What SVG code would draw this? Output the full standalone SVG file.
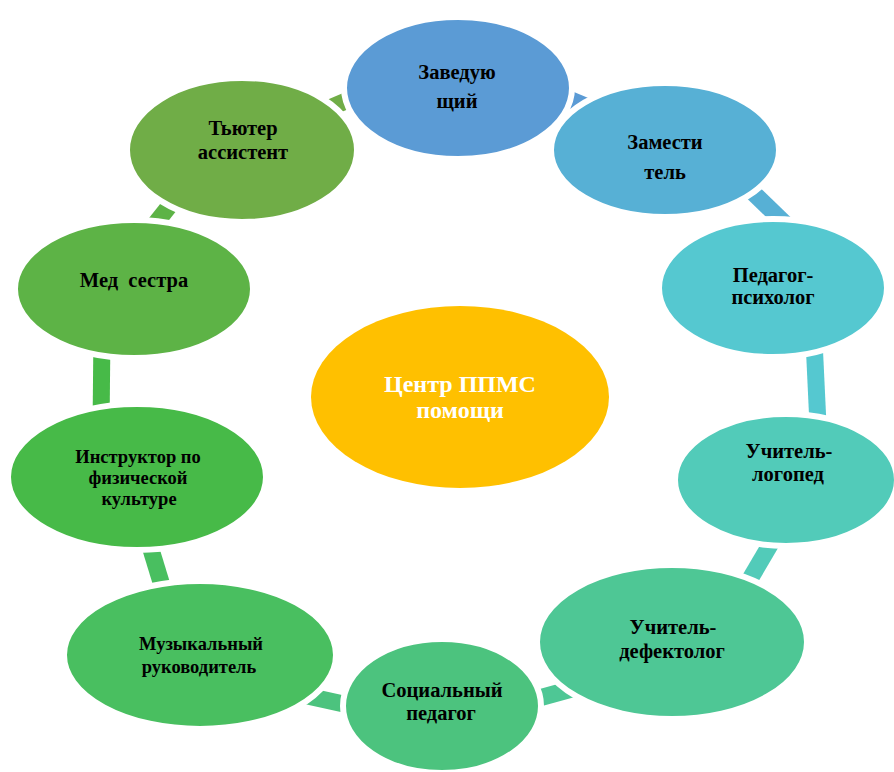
<svg xmlns="http://www.w3.org/2000/svg" width="894" height="772" viewBox="0 0 894 772">
<style>
.conn{fill:none;stroke-width:17;stroke-linecap:butt}
.node{stroke:#fff;stroke-width:6}
.t{font-family:"Liberation Serif","Times New Roman",serif;font-weight:bold;font-size:20.5px;fill:#000;text-anchor:middle}
.s{font-size:18.5px}
.c{font-size:24px;fill:#fff}
</style>
<rect width="894" height="772" fill="#fff"/>
<g id="connectors">
<line class="conn" x1="545" y1="89" x2="600" y2="112" stroke="#5B9BD5"/>
<line class="conn" x1="740" y1="180" x2="800" y2="238" stroke="#57B0D5"/>
<line class="conn" x1="814" y1="340" x2="818" y2="425" stroke="#55C8D0"/>
<line class="conn" x1="780" y1="528" x2="740" y2="596" stroke="#52CBB9"/>
<line class="conn" x1="590" y1="684" x2="510" y2="706" stroke="#4EC795"/>
<line class="conn" x1="380" y1="712" x2="280" y2="690" stroke="#4CC37E"/>
<line class="conn" x1="171" y1="615" x2="142" y2="520" stroke="#49BF60"/>
<line class="conn" x1="101" y1="430" x2="102" y2="330" stroke="#47BA48"/>
<line class="conn" x1="140" y1="243" x2="190" y2="180" stroke="#5DB346"/>
<line class="conn" x1="320" y1="112" x2="360" y2="95" stroke="#70AD47"/>
</g>
<g id="center"><ellipse cx="460" cy="397" rx="149" ry="91" fill="#FFC000"/>
<text class="t c" x="460" y="392">Центр ППМС</text><text class="t c" x="460" y="418">помощи</text></g>
<g id="n1"><ellipse class="node" cx="458" cy="88" rx="114" ry="71" fill="#5B9BD5"/>
<text class="t" x="457" y="79">Заведую</text><text class="t" x="457" y="108">щий</text></g>
<g id="n2"><ellipse class="node" cx="665" cy="150" rx="114" ry="67" fill="#57B0D5"/>
<text class="t" x="665" y="149">Замести</text><text class="t" x="665" y="179">тель</text></g>
<g id="n3"><ellipse class="node" cx="773" cy="288" rx="114" ry="69" fill="#55C8D0"/>
<text class="t" x="773" y="282">Педагог-</text><text class="t" x="773" y="304">психолог</text></g>
<g id="n4"><ellipse class="node" cx="786" cy="480" rx="111" ry="66" fill="#52CBB9"/>
<text class="t" x="789" y="458">Учитель-</text><text class="t" x="788" y="481">логопед</text></g>
<g id="n5"><ellipse class="node" cx="672" cy="642" rx="135" ry="77" fill="#4EC795"/>
<text class="t" x="673" y="634">Учитель-</text><text class="t" x="672" y="658">дефектолог</text></g>
<g id="n6"><ellipse class="node" cx="442" cy="706" rx="99" ry="67" fill="#4CC37E"/>
<text class="t" x="442" y="697">Социальный</text><text class="t" x="441" y="720">педагог</text></g>
<g id="n7"><ellipse class="node" cx="200" cy="655" rx="136" ry="74" fill="#49BF60"/>
<text class="t s" x="201" y="650">Музыкальный</text><text class="t s" x="199" y="673">руководитель</text></g>
<g id="n8"><ellipse class="node" cx="137" cy="477" rx="129" ry="73" fill="#47BA48"/>
<text class="t s" x="138" y="463">Инструктор по</text><text class="t s" x="138" y="484">физической</text><text class="t s" x="139" y="505">культуре</text></g>
<g id="n9"><ellipse class="node" cx="134" cy="289" rx="119" ry="69" fill="#5DB346"/>
<text class="t" x="134" y="287" xml:space="preserve">Мед  сестра</text></g>
<g id="n10"><ellipse class="node" cx="242" cy="150" rx="115" ry="72" fill="#70AD47"/>
<text class="t" x="243" y="135">Тьютер</text><text class="t" x="243" y="159">ассистент</text></g>
</svg>
